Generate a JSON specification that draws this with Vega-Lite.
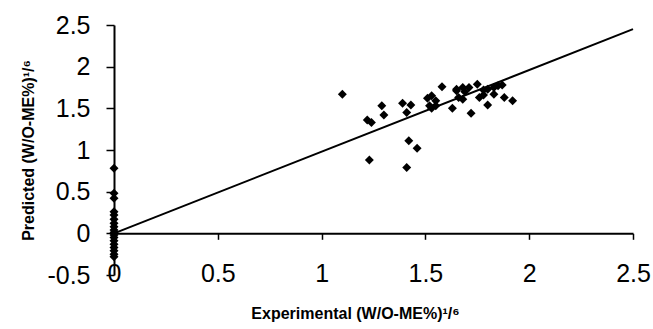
{
  "$schema": "https://vega.github.io/schema/vega-lite/v6.json",
  "width": 519,
  "height": 250,
  "autosize": "none",
  "padding": {"left": 114, "top": 25, "right": 20, "bottom": 54},
  "background": "white",
  "config": {
    "view": {"stroke": null},
    "font": "Liberation Sans"
  },
  "datasets": {
    "pts": [
      {"x": 0, "y": 0.78}, {"x": 0, "y": 0.48}, {"x": 0, "y": 0.42}, {"x": 0, "y": 0.26},
      {"x": 0, "y": 0.22}, {"x": 0, "y": 0.17}, {"x": 0, "y": 0.12}, {"x": 0, "y": 0.08},
      {"x": 0, "y": 0.04}, {"x": 0, "y": 0.01}, {"x": 0, "y": -0.02}, {"x": 0, "y": -0.05},
      {"x": 0, "y": -0.09}, {"x": 0, "y": -0.13}, {"x": 0, "y": -0.17}, {"x": 0, "y": -0.21},
      {"x": 0, "y": -0.25}, {"x": 0, "y": -0.28},
      {"x": 1.10, "y": 1.67}, {"x": 1.22, "y": 1.36}, {"x": 1.24, "y": 1.33}, {"x": 1.23, "y": 0.88},
      {"x": 1.29, "y": 1.53}, {"x": 1.30, "y": 1.42}, {"x": 1.39, "y": 1.56}, {"x": 1.43, "y": 1.54},
      {"x": 1.41, "y": 1.45}, {"x": 1.42, "y": 1.11}, {"x": 1.46, "y": 1.02}, {"x": 1.41, "y": 0.79},
      {"x": 1.51, "y": 1.62}, {"x": 1.53, "y": 1.65}, {"x": 1.55, "y": 1.59}, {"x": 1.52, "y": 1.53},
      {"x": 1.55, "y": 1.53}, {"x": 1.53, "y": 1.50}, {"x": 1.58, "y": 1.76}, {"x": 1.63, "y": 1.50},
      {"x": 1.65, "y": 1.71}, {"x": 1.65, "y": 1.73}, {"x": 1.68, "y": 1.75}, {"x": 1.69, "y": 1.70},
      {"x": 1.71, "y": 1.75}, {"x": 1.68, "y": 1.61}, {"x": 1.66, "y": 1.63}, {"x": 1.72, "y": 1.44},
      {"x": 1.75, "y": 1.79}, {"x": 1.76, "y": 1.63}, {"x": 1.78, "y": 1.66}, {"x": 1.80, "y": 1.54},
      {"x": 1.78, "y": 1.72}, {"x": 1.80, "y": 1.73}, {"x": 1.83, "y": 1.75}, {"x": 1.85, "y": 1.77},
      {"x": 1.87, "y": 1.78}, {"x": 1.83, "y": 1.67}, {"x": 1.88, "y": 1.63}, {"x": 1.92, "y": 1.59}
    ],
    "fit": [
      {"x": 0, "y": 0},
      {"x": 2.5, "y": 2.45}
    ]
  },
  "layer": [
    {
      "data": {"name": "fit"},
      "mark": {"type": "line", "color": "black", "strokeWidth": 2},
      "encoding": {
        "x": {
          "field": "x", "type": "quantitative",
          "scale": {"domain": [0, 2.5], "nice": false, "zero": false},
          "axis": {
            "title": "Experimental (W/O-ME%)¹/⁶",
            "titleFont": "Liberation Sans", "titleFontSize": 16, "titleFontWeight": "bold",
            "titleColor": "black", "titlePadding": 19, "titleX": 241,
            "values": [0, 0.5, 1, 1.5, 2, 2.5],
            "labelExpr": "'' + datum.value",
            "labelFont": "Liberation Sans", "labelFontSize": 25, "labelColor": "black",
            "labelPadding": 22, "labelFlush": false, "labelOverlap": false,
            "offset": -41.7,
            "domainColor": "black", "domainWidth": 2,
            "tickColor": "black", "tickWidth": 1.5, "tickSize": 6,
            "grid": false
          }
        },
        "y": {
          "field": "y", "type": "quantitative",
          "scale": {"domain": [-0.5, 2.5], "nice": false, "zero": false},
          "axis": {
            "title": "Predicted (W/O-ME%)¹/⁶",
            "titleFont": "Liberation Sans", "titleFontSize": 16, "titleFontWeight": "bold",
            "titleColor": "black", "titlePadding": 10,
            "values": [-0.5, 0, 0.5, 1, 1.5, 2, 2.5],
            "labelExpr": "'' + datum.value",
            "labelFont": "Liberation Sans", "labelFontSize": 25, "labelColor": "black",
            "labelPadding": 16, "labelFlush": false, "labelOverlap": false,
            "domainColor": "black", "domainWidth": 2,
            "tickColor": "black", "tickWidth": 1.5, "tickSize": 8,
            "grid": false
          }
        }
      }
    },
    {
      "data": {"name": "pts"},
      "mark": {"type": "point", "shape": "diamond", "filled": true, "color": "black", "size": 80, "opacity": 1},
      "encoding": {
        "x": {"field": "x", "type": "quantitative"},
        "y": {"field": "y", "type": "quantitative"}
      }
    }
  ]
}
